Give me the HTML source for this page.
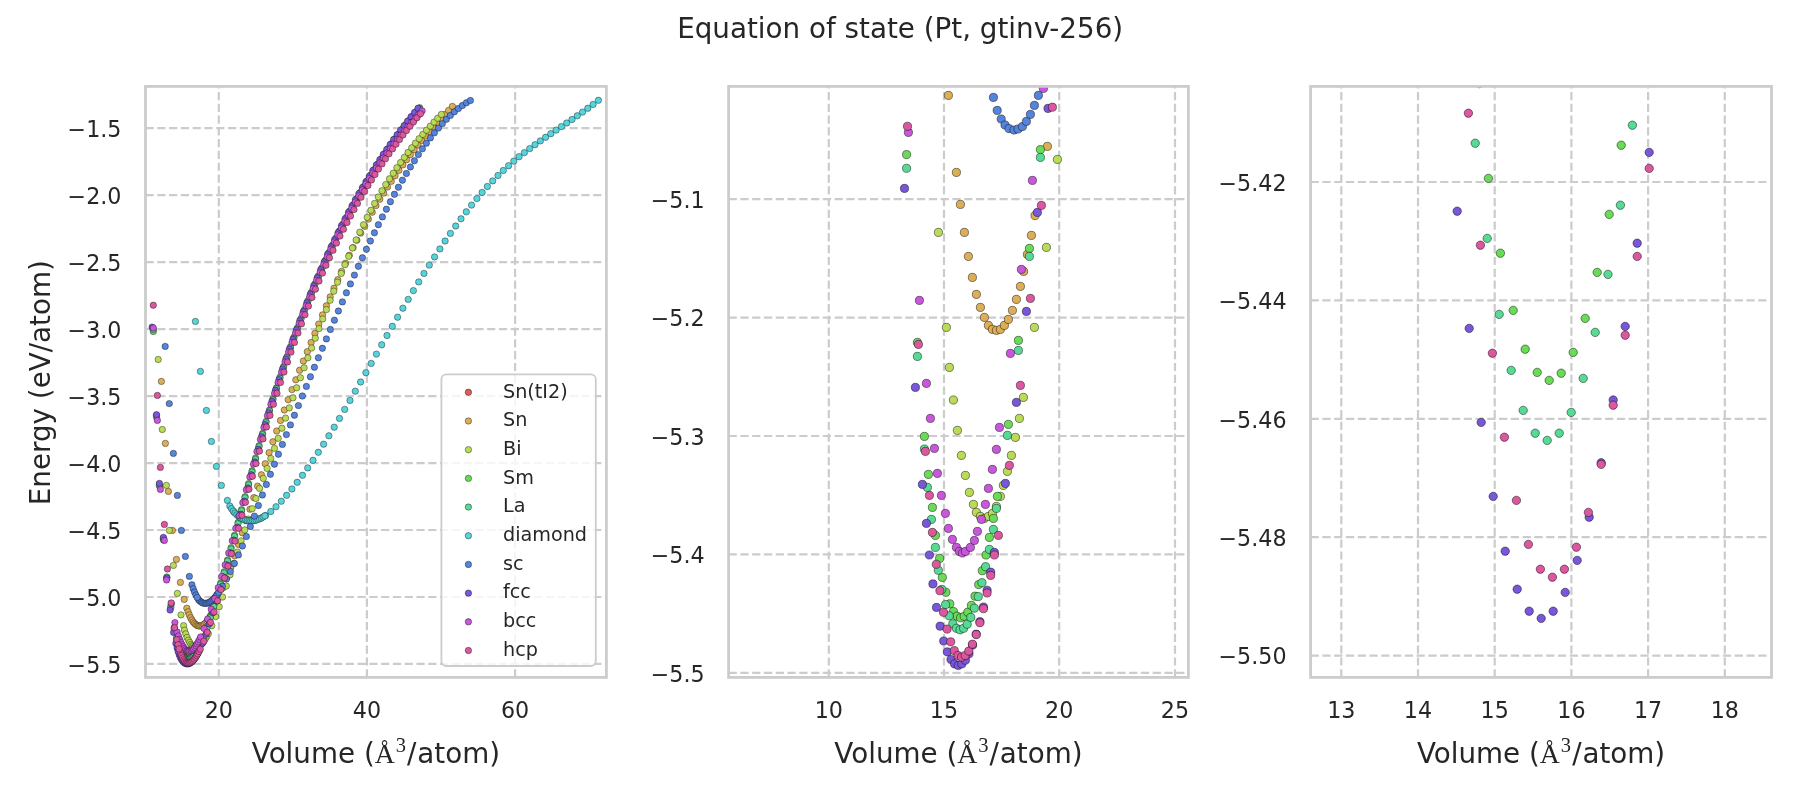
<!DOCTYPE html><html><head><meta charset="utf-8"><title>Equation of state (Pt, gtinv-256)</title>
<style>html,body{margin:0;padding:0;background:#fff;}svg{display:block;will-change:transform;}text{font-family:'DejaVu Sans', 'Liberation Sans', sans-serif;fill:#262626;}</style></head><body>
<svg width="1800" height="800" viewBox="0 0 1800 800">
<rect x="0" y="0" width="1800" height="800" fill="#fff"/>
<defs>
<clipPath id="c0"><rect x="145.50" y="86.40" width="460.90" height="591.00"/></clipPath>
<clipPath id="c1"><rect x="728.60" y="86.40" width="459.80" height="591.00"/></clipPath>
<clipPath id="c2"><rect x="1310.60" y="86.40" width="460.90" height="591.00"/></clipPath>
</defs>
<text x="900.2" y="38.1" text-anchor="middle" font-size="27.78">Equation of state (Pt, gtinv-256)</text>
<path d="M218.80 677.40V86.40M366.90 677.40V86.40M515.10 677.40V86.40M145.50 128.10H606.40M145.50 195.08H606.40M145.50 262.07H606.40M145.50 329.05H606.40M145.50 396.04H606.40M145.50 463.02H606.40M145.50 530.01H606.40M145.50 597.00H606.40M145.50 663.98H606.40" stroke="#cccccc" stroke-width="2.22" stroke-dasharray="8.22 3.56" fill="none"/>
<g clip-path="url(#c0)" stroke="#000" stroke-opacity="0.7" stroke-width="0.55">
<g fill="#dbae57"><circle cx="184.2" cy="599.4" r="3.20"/><circle cx="186.8" cy="608.2" r="3.20"/><circle cx="188.1" cy="611.8" r="3.20"/><circle cx="189.3" cy="614.9" r="3.20"/><circle cx="190.6" cy="617.7" r="3.20"/><circle cx="191.9" cy="620.0" r="3.20"/><circle cx="193.2" cy="622.0" r="3.20"/><circle cx="194.5" cy="623.4" r="3.20"/><circle cx="195.8" cy="624.6" r="3.20"/><circle cx="197.0" cy="625.5" r="3.20"/><circle cx="198.3" cy="625.9" r="3.20"/><circle cx="199.6" cy="626.0" r="3.20"/><circle cx="200.9" cy="625.9" r="3.20"/><circle cx="202.2" cy="625.5" r="3.20"/><circle cx="203.5" cy="624.8" r="3.20"/><circle cx="204.7" cy="623.8" r="3.20"/><circle cx="206.0" cy="622.5" r="3.20"/><circle cx="207.3" cy="621.1" r="3.20"/><circle cx="208.3" cy="619.4" r="3.20"/><circle cx="209.6" cy="617.4" r="3.20"/><circle cx="210.8" cy="615.3" r="3.20"/><circle cx="212.0" cy="613.0" r="3.20"/><circle cx="216.0" cy="605.2" r="3.20"/><circle cx="161.4" cy="381.4" r="3.20"/><circle cx="165.4" cy="443.4" r="3.20"/><circle cx="168.4" cy="491.4" r="3.20"/><circle cx="172.4" cy="530.4" r="3.20"/><circle cx="176.4" cy="559.4" r="3.20"/><circle cx="180.4" cy="582.4" r="3.20"/><circle cx="219.4" cy="597.2" r="3.20"/><circle cx="223.2" cy="587.8" r="3.20"/><circle cx="227.0" cy="577.6" r="3.20"/><circle cx="230.9" cy="566.9" r="3.20"/><circle cx="234.7" cy="555.8" r="3.20"/><circle cx="238.5" cy="544.4" r="3.20"/><circle cx="242.3" cy="532.7" r="3.20"/><circle cx="246.1" cy="520.9" r="3.20"/><circle cx="250.0" cy="509.2" r="3.20"/><circle cx="253.8" cy="497.6" r="3.20"/><circle cx="257.6" cy="486.1" r="3.20"/><circle cx="261.4" cy="474.8" r="3.20"/><circle cx="265.2" cy="463.7" r="3.20"/><circle cx="269.1" cy="452.6" r="3.20"/><circle cx="272.9" cy="441.8" r="3.20"/><circle cx="276.7" cy="431.0" r="3.20"/><circle cx="280.5" cy="420.5" r="3.20"/><circle cx="284.3" cy="410.0" r="3.20"/><circle cx="288.2" cy="399.7" r="3.20"/><circle cx="292.0" cy="389.6" r="3.20"/><circle cx="295.8" cy="379.8" r="3.20"/><circle cx="299.6" cy="370.3" r="3.20"/><circle cx="303.4" cy="361.0" r="3.20"/><circle cx="307.3" cy="351.7" r="3.20"/><circle cx="311.1" cy="342.5" r="3.20"/><circle cx="314.9" cy="333.4" r="3.20"/><circle cx="318.7" cy="324.1" r="3.20"/><circle cx="322.5" cy="314.9" r="3.20"/><circle cx="326.4" cy="305.8" r="3.20"/><circle cx="330.2" cy="296.9" r="3.20"/><circle cx="334.0" cy="288.2" r="3.20"/><circle cx="337.8" cy="279.7" r="3.20"/><circle cx="341.6" cy="271.4" r="3.20"/><circle cx="345.5" cy="263.2" r="3.20"/><circle cx="349.3" cy="255.3" r="3.20"/><circle cx="353.1" cy="247.6" r="3.20"/><circle cx="356.9" cy="240.2" r="3.20"/><circle cx="360.7" cy="233.1" r="3.20"/><circle cx="364.6" cy="226.3" r="3.20"/><circle cx="368.4" cy="219.1" r="3.20"/><circle cx="372.2" cy="212.2" r="3.20"/><circle cx="376.0" cy="205.6" r="3.20"/><circle cx="379.8" cy="199.2" r="3.20"/><circle cx="383.7" cy="193.0" r="3.20"/><circle cx="387.5" cy="187.0" r="3.20"/><circle cx="391.3" cy="181.3" r="3.20"/><circle cx="395.1" cy="175.8" r="3.20"/><circle cx="398.9" cy="170.3" r="3.20"/><circle cx="402.8" cy="164.9" r="3.20"/><circle cx="406.6" cy="159.7" r="3.20"/><circle cx="410.4" cy="154.6" r="3.20"/><circle cx="414.2" cy="149.7" r="3.20"/><circle cx="418.0" cy="145.0" r="3.20"/><circle cx="421.9" cy="140.4" r="3.20"/><circle cx="425.7" cy="135.9" r="3.20"/><circle cx="429.5" cy="131.5" r="3.20"/><circle cx="433.3" cy="127.1" r="3.20"/><circle cx="437.1" cy="122.8" r="3.20"/><circle cx="441.0" cy="118.6" r="3.20"/><circle cx="444.8" cy="114.5" r="3.20"/><circle cx="448.6" cy="110.4" r="3.20"/><circle cx="452.4" cy="106.4" r="3.20"/></g>
<g fill="#b9db57"><circle cx="181.0" cy="614.9" r="3.20"/><circle cx="183.6" cy="625.7" r="3.20"/><circle cx="184.5" cy="630.2" r="3.20"/><circle cx="185.8" cy="633.9" r="3.20"/><circle cx="187.1" cy="637.4" r="3.20"/><circle cx="188.4" cy="640.2" r="3.20"/><circle cx="189.7" cy="642.4" r="3.20"/><circle cx="190.9" cy="644.4" r="3.20"/><circle cx="192.2" cy="645.7" r="3.20"/><circle cx="193.2" cy="646.6" r="3.20"/><circle cx="194.5" cy="647.1" r="3.20"/><circle cx="195.8" cy="647.3" r="3.20"/><circle cx="197.0" cy="647.1" r="3.20"/><circle cx="198.3" cy="646.7" r="3.20"/><circle cx="199.6" cy="646.0" r="3.20"/><circle cx="200.9" cy="644.8" r="3.20"/><circle cx="201.9" cy="643.6" r="3.20"/><circle cx="203.1" cy="642.0" r="3.20"/><circle cx="204.4" cy="640.2" r="3.20"/><circle cx="205.7" cy="638.1" r="3.20"/><circle cx="207.0" cy="636.0" r="3.20"/><circle cx="208.3" cy="633.6" r="3.20"/><circle cx="211.8" cy="625.7" r="3.20"/><circle cx="215.7" cy="616.6" r="3.20"/><circle cx="219.2" cy="606.7" r="3.20"/><circle cx="158.2" cy="359.5" r="3.20"/><circle cx="162.3" cy="429.5" r="3.20"/><circle cx="166.4" cy="485.4" r="3.20"/><circle cx="169.4" cy="530.4" r="3.20"/><circle cx="173.4" cy="565.4" r="3.20"/><circle cx="177.4" cy="593.4" r="3.20"/><circle cx="222.5" cy="597.0" r="3.20"/><circle cx="226.3" cy="586.0" r="3.20"/><circle cx="230.0" cy="574.7" r="3.20"/><circle cx="233.7" cy="563.4" r="3.20"/><circle cx="237.4" cy="552.1" r="3.20"/><circle cx="241.1" cy="540.9" r="3.20"/><circle cx="244.8" cy="529.9" r="3.20"/><circle cx="248.5" cy="519.1" r="3.20"/><circle cx="252.2" cy="508.7" r="3.20"/><circle cx="255.9" cy="498.5" r="3.20"/><circle cx="259.6" cy="488.4" r="3.20"/><circle cx="263.3" cy="478.4" r="3.20"/><circle cx="267.1" cy="468.4" r="3.20"/><circle cx="270.8" cy="458.4" r="3.20"/><circle cx="274.5" cy="448.4" r="3.20"/><circle cx="278.2" cy="438.3" r="3.20"/><circle cx="281.9" cy="428.2" r="3.20"/><circle cx="285.6" cy="418.1" r="3.20"/><circle cx="289.3" cy="407.9" r="3.20"/><circle cx="293.0" cy="397.8" r="3.20"/><circle cx="296.7" cy="387.8" r="3.20"/><circle cx="300.4" cy="377.7" r="3.20"/><circle cx="304.1" cy="367.8" r="3.20"/><circle cx="307.9" cy="357.8" r="3.20"/><circle cx="311.6" cy="348.0" r="3.20"/><circle cx="315.3" cy="338.2" r="3.20"/><circle cx="319.0" cy="328.6" r="3.20"/><circle cx="322.7" cy="319.0" r="3.20"/><circle cx="326.4" cy="309.6" r="3.20"/><circle cx="330.1" cy="300.3" r="3.20"/><circle cx="333.8" cy="291.2" r="3.20"/><circle cx="337.5" cy="282.2" r="3.20"/><circle cx="341.2" cy="273.4" r="3.20"/><circle cx="344.9" cy="264.7" r="3.20"/><circle cx="348.7" cy="256.3" r="3.20"/><circle cx="352.4" cy="248.0" r="3.20"/><circle cx="356.1" cy="240.0" r="3.20"/><circle cx="359.8" cy="232.2" r="3.20"/><circle cx="363.5" cy="224.7" r="3.20"/><circle cx="367.2" cy="217.4" r="3.20"/><circle cx="370.9" cy="210.3" r="3.20"/><circle cx="374.6" cy="203.5" r="3.20"/><circle cx="378.3" cy="197.0" r="3.20"/><circle cx="382.0" cy="190.7" r="3.20"/><circle cx="385.7" cy="184.6" r="3.20"/><circle cx="389.5" cy="178.8" r="3.20"/><circle cx="393.2" cy="173.2" r="3.20"/><circle cx="396.9" cy="167.7" r="3.20"/><circle cx="400.6" cy="162.5" r="3.20"/><circle cx="404.3" cy="157.4" r="3.20"/><circle cx="408.0" cy="152.5" r="3.20"/><circle cx="411.7" cy="147.8" r="3.20"/><circle cx="415.4" cy="143.2" r="3.20"/><circle cx="419.1" cy="138.7" r="3.20"/><circle cx="422.8" cy="134.4" r="3.20"/><circle cx="426.5" cy="130.2" r="3.20"/><circle cx="430.3" cy="126.1" r="3.20"/><circle cx="434.0" cy="122.1" r="3.20"/><circle cx="437.7" cy="118.2" r="3.20"/><circle cx="441.4" cy="114.4" r="3.20"/></g>
<g fill="#69db57"><circle cx="182.2" cy="654.0" r="3.20"/><circle cx="183.4" cy="655.7" r="3.20"/><circle cx="184.6" cy="657.0" r="3.20"/><circle cx="185.8" cy="657.8" r="3.20"/><circle cx="187.0" cy="658.4" r="3.20"/><circle cx="188.1" cy="658.6" r="3.20"/><circle cx="189.3" cy="658.4" r="3.20"/><circle cx="190.4" cy="657.9" r="3.20"/><circle cx="191.6" cy="657.1" r="3.20"/><circle cx="192.8" cy="656.1" r="3.20"/><circle cx="193.9" cy="654.8" r="3.20"/><circle cx="195.1" cy="653.2" r="3.20"/><circle cx="170.8" cy="606.1" r="3.20"/><circle cx="174.2" cy="627.4" r="3.20"/><circle cx="176.5" cy="638.0" r="3.20"/><circle cx="177.8" cy="642.3" r="3.20"/><circle cx="179.1" cy="646.1" r="3.20"/><circle cx="180.0" cy="649.2" r="3.20"/><circle cx="181.4" cy="651.8" r="3.20"/><circle cx="196.3" cy="651.5" r="3.20"/><circle cx="197.4" cy="649.5" r="3.20"/><circle cx="198.6" cy="647.3" r="3.20"/><circle cx="199.9" cy="644.8" r="3.20"/><circle cx="203.5" cy="636.7" r="3.20"/><circle cx="206.7" cy="627.2" r="3.20"/><circle cx="210.2" cy="616.8" r="3.20"/><circle cx="213.7" cy="605.6" r="3.20"/><circle cx="153.3" cy="331.5" r="3.20"/><circle cx="156.5" cy="417.3" r="3.20"/><circle cx="159.4" cy="486.0" r="3.20"/><circle cx="163.4" cy="540.0" r="3.20"/><circle cx="166.8" cy="578.0" r="3.20"/><circle cx="217.2" cy="594.5" r="3.20"/><circle cx="220.7" cy="583.3" r="3.20"/><circle cx="224.2" cy="571.7" r="3.20"/><circle cx="227.6" cy="559.9" r="3.20"/><circle cx="231.1" cy="547.7" r="3.20"/><circle cx="234.6" cy="535.2" r="3.20"/><circle cx="238.1" cy="522.5" r="3.20"/><circle cx="241.6" cy="509.6" r="3.20"/><circle cx="245.1" cy="496.6" r="3.20"/><circle cx="248.6" cy="483.6" r="3.20"/><circle cx="252.1" cy="470.8" r="3.20"/><circle cx="255.6" cy="458.0" r="3.20"/><circle cx="259.1" cy="445.6" r="3.20"/><circle cx="262.6" cy="433.4" r="3.20"/><circle cx="266.1" cy="421.5" r="3.20"/><circle cx="269.5" cy="410.0" r="3.20"/><circle cx="273.0" cy="398.7" r="3.20"/><circle cx="276.5" cy="387.8" r="3.20"/><circle cx="280.0" cy="377.1" r="3.20"/><circle cx="283.5" cy="366.7" r="3.20"/><circle cx="287.0" cy="356.6" r="3.20"/><circle cx="290.5" cy="346.7" r="3.20"/><circle cx="294.0" cy="337.1" r="3.20"/><circle cx="297.5" cy="327.7" r="3.20"/><circle cx="301.0" cy="318.5" r="3.20"/><circle cx="304.5" cy="309.6" r="3.20"/><circle cx="307.9" cy="300.8" r="3.20"/><circle cx="311.4" cy="292.3" r="3.20"/><circle cx="314.9" cy="284.0" r="3.20"/><circle cx="318.4" cy="275.9" r="3.20"/><circle cx="321.9" cy="267.9" r="3.20"/><circle cx="325.4" cy="260.2" r="3.20"/><circle cx="328.9" cy="252.6" r="3.20"/><circle cx="332.4" cy="245.2" r="3.20"/><circle cx="335.9" cy="238.1" r="3.20"/><circle cx="339.4" cy="231.0" r="3.20"/><circle cx="342.9" cy="224.2" r="3.20"/><circle cx="346.4" cy="217.5" r="3.20"/><circle cx="349.8" cy="211.0" r="3.20"/><circle cx="353.3" cy="204.6" r="3.20"/><circle cx="356.8" cy="198.4" r="3.20"/><circle cx="360.3" cy="192.4" r="3.20"/><circle cx="363.8" cy="186.5" r="3.20"/><circle cx="367.3" cy="180.7" r="3.20"/><circle cx="370.8" cy="175.0" r="3.20"/><circle cx="374.3" cy="169.5" r="3.20"/><circle cx="377.8" cy="164.0" r="3.20"/><circle cx="381.3" cy="158.7" r="3.20"/><circle cx="384.8" cy="153.5" r="3.20"/><circle cx="388.3" cy="148.5" r="3.20"/><circle cx="391.7" cy="143.5" r="3.20"/><circle cx="395.2" cy="138.7" r="3.20"/><circle cx="398.7" cy="134.0" r="3.20"/><circle cx="402.2" cy="129.3" r="3.20"/><circle cx="405.7" cy="124.8" r="3.20"/><circle cx="409.2" cy="120.4" r="3.20"/><circle cx="412.7" cy="116.1" r="3.20"/><circle cx="416.2" cy="111.8" r="3.20"/><circle cx="419.7" cy="107.7" r="3.20"/></g>
<g fill="#57db94"><circle cx="181.0" cy="653.2" r="3.20"/><circle cx="182.1" cy="655.3" r="3.20"/><circle cx="183.3" cy="657.1" r="3.20"/><circle cx="184.4" cy="658.3" r="3.20"/><circle cx="185.6" cy="659.2" r="3.20"/><circle cx="186.8" cy="659.7" r="3.20"/><circle cx="187.9" cy="659.9" r="3.20"/><circle cx="189.1" cy="659.7" r="3.20"/><circle cx="190.2" cy="659.3" r="3.20"/><circle cx="191.4" cy="658.5" r="3.20"/><circle cx="192.6" cy="657.5" r="3.20"/><circle cx="193.8" cy="656.2" r="3.20"/><circle cx="195.0" cy="654.6" r="3.20"/><circle cx="196.2" cy="652.8" r="3.20"/><circle cx="170.8" cy="607.7" r="3.20"/><circle cx="174.2" cy="629.0" r="3.20"/><circle cx="176.5" cy="639.5" r="3.20"/><circle cx="177.5" cy="643.8" r="3.20"/><circle cx="178.7" cy="647.4" r="3.20"/><circle cx="180.0" cy="650.6" r="3.20"/><circle cx="197.4" cy="650.8" r="3.20"/><circle cx="198.6" cy="648.6" r="3.20"/><circle cx="199.6" cy="646.2" r="3.20"/><circle cx="203.1" cy="637.9" r="3.20"/><circle cx="206.7" cy="628.3" r="3.20"/><circle cx="210.2" cy="617.7" r="3.20"/><circle cx="213.7" cy="606.5" r="3.20"/><circle cx="153.3" cy="329.5" r="3.20"/><circle cx="156.5" cy="415.5" r="3.20"/><circle cx="159.4" cy="485.0" r="3.20"/><circle cx="163.4" cy="538.5" r="3.20"/><circle cx="166.8" cy="577.0" r="3.20"/><circle cx="217.1" cy="595.7" r="3.20"/><circle cx="220.6" cy="584.5" r="3.20"/><circle cx="224.1" cy="573.0" r="3.20"/><circle cx="227.5" cy="561.1" r="3.20"/><circle cx="231.0" cy="549.0" r="3.20"/><circle cx="234.5" cy="536.5" r="3.20"/><circle cx="238.0" cy="523.7" r="3.20"/><circle cx="241.5" cy="510.8" r="3.20"/><circle cx="245.0" cy="497.8" r="3.20"/><circle cx="248.5" cy="484.9" r="3.20"/><circle cx="252.0" cy="472.0" r="3.20"/><circle cx="255.5" cy="459.3" r="3.20"/><circle cx="259.0" cy="446.8" r="3.20"/><circle cx="262.4" cy="434.6" r="3.20"/><circle cx="265.9" cy="422.7" r="3.20"/><circle cx="269.4" cy="411.1" r="3.20"/><circle cx="272.9" cy="399.9" r="3.20"/><circle cx="276.4" cy="388.9" r="3.20"/><circle cx="279.9" cy="378.2" r="3.20"/><circle cx="283.4" cy="367.8" r="3.20"/><circle cx="286.9" cy="357.7" r="3.20"/><circle cx="290.4" cy="347.8" r="3.20"/><circle cx="293.8" cy="338.1" r="3.20"/><circle cx="297.3" cy="328.7" r="3.20"/><circle cx="300.8" cy="319.5" r="3.20"/><circle cx="304.3" cy="310.6" r="3.20"/><circle cx="307.8" cy="301.8" r="3.20"/><circle cx="311.3" cy="293.3" r="3.20"/><circle cx="314.8" cy="284.9" r="3.20"/><circle cx="318.3" cy="276.8" r="3.20"/><circle cx="321.8" cy="268.8" r="3.20"/><circle cx="325.2" cy="261.1" r="3.20"/><circle cx="328.7" cy="253.5" r="3.20"/><circle cx="332.2" cy="246.1" r="3.20"/><circle cx="335.7" cy="238.9" r="3.20"/><circle cx="339.2" cy="231.9" r="3.20"/><circle cx="342.7" cy="225.0" r="3.20"/><circle cx="346.2" cy="218.3" r="3.20"/><circle cx="349.7" cy="211.8" r="3.20"/><circle cx="353.2" cy="205.4" r="3.20"/><circle cx="356.6" cy="199.2" r="3.20"/><circle cx="360.1" cy="193.1" r="3.20"/><circle cx="363.6" cy="187.2" r="3.20"/><circle cx="367.1" cy="181.4" r="3.20"/><circle cx="370.6" cy="175.8" r="3.20"/><circle cx="374.1" cy="170.2" r="3.20"/><circle cx="377.6" cy="164.8" r="3.20"/><circle cx="381.1" cy="159.5" r="3.20"/><circle cx="384.6" cy="154.3" r="3.20"/><circle cx="388.0" cy="149.2" r="3.20"/><circle cx="391.5" cy="144.3" r="3.20"/><circle cx="395.0" cy="139.4" r="3.20"/><circle cx="398.5" cy="134.7" r="3.20"/><circle cx="402.0" cy="130.1" r="3.20"/><circle cx="405.5" cy="125.6" r="3.20"/><circle cx="409.0" cy="121.2" r="3.20"/><circle cx="412.5" cy="116.9" r="3.20"/><circle cx="416.0" cy="112.6" r="3.20"/><circle cx="419.5" cy="108.5" r="3.20"/></g>
<g fill="#57d3db"><circle cx="195.4" cy="321.4" r="3.20"/><circle cx="200.4" cy="371.4" r="3.20"/><circle cx="206.4" cy="410.4" r="3.20"/><circle cx="211.4" cy="441.4" r="3.20"/><circle cx="216.4" cy="466.4" r="3.20"/><circle cx="221.4" cy="485.4" r="3.20"/><circle cx="227.4" cy="500.4" r="3.20"/><circle cx="233.8" cy="511.7" r="3.20"/><circle cx="239.0" cy="516.6" r="3.20"/><circle cx="244.3" cy="519.6" r="3.20"/><circle cx="249.6" cy="520.8" r="3.20"/><circle cx="254.9" cy="520.4" r="3.20"/><circle cx="260.2" cy="518.5" r="3.20"/><circle cx="265.5" cy="515.5" r="3.20"/><circle cx="270.8" cy="511.5" r="3.20"/><circle cx="276.0" cy="506.7" r="3.20"/><circle cx="281.3" cy="501.2" r="3.20"/><circle cx="286.6" cy="495.3" r="3.20"/><circle cx="291.9" cy="489.0" r="3.20"/><circle cx="297.2" cy="482.3" r="3.20"/><circle cx="302.5" cy="475.3" r="3.20"/><circle cx="307.7" cy="467.9" r="3.20"/><circle cx="313.0" cy="460.3" r="3.20"/><circle cx="318.3" cy="452.3" r="3.20"/><circle cx="323.6" cy="444.2" r="3.20"/><circle cx="328.9" cy="435.8" r="3.20"/><circle cx="334.2" cy="427.2" r="3.20"/><circle cx="339.5" cy="418.4" r="3.20"/><circle cx="344.7" cy="409.4" r="3.20"/><circle cx="350.0" cy="400.4" r="3.20"/><circle cx="355.3" cy="391.2" r="3.20"/><circle cx="360.6" cy="382.0" r="3.20"/><circle cx="365.9" cy="372.7" r="3.20"/><circle cx="371.2" cy="363.4" r="3.20"/><circle cx="376.4" cy="354.1" r="3.20"/><circle cx="381.7" cy="344.8" r="3.20"/><circle cx="387.0" cy="335.5" r="3.20"/><circle cx="392.3" cy="326.3" r="3.20"/><circle cx="397.6" cy="317.2" r="3.20"/><circle cx="402.9" cy="308.2" r="3.20"/><circle cx="408.2" cy="299.4" r="3.20"/><circle cx="413.4" cy="290.6" r="3.20"/><circle cx="418.7" cy="281.9" r="3.20"/><circle cx="424.0" cy="273.4" r="3.20"/><circle cx="429.3" cy="265.1" r="3.20"/><circle cx="434.6" cy="256.9" r="3.20"/><circle cx="439.9" cy="248.9" r="3.20"/><circle cx="445.1" cy="241.0" r="3.20"/><circle cx="450.4" cy="233.4" r="3.20"/><circle cx="455.7" cy="226.0" r="3.20"/><circle cx="461.0" cy="218.8" r="3.20"/><circle cx="466.3" cy="211.8" r="3.20"/><circle cx="471.6" cy="205.1" r="3.20"/><circle cx="476.9" cy="198.6" r="3.20"/><circle cx="482.1" cy="192.4" r="3.20"/><circle cx="487.4" cy="186.5" r="3.20"/><circle cx="492.7" cy="180.9" r="3.20"/><circle cx="498.0" cy="175.5" r="3.20"/><circle cx="503.3" cy="170.5" r="3.20"/><circle cx="508.6" cy="165.7" r="3.20"/><circle cx="513.8" cy="161.1" r="3.20"/><circle cx="519.1" cy="156.7" r="3.20"/><circle cx="524.4" cy="152.6" r="3.20"/><circle cx="529.7" cy="148.6" r="3.20"/><circle cx="535.0" cy="144.7" r="3.20"/><circle cx="540.3" cy="140.9" r="3.20"/><circle cx="545.6" cy="137.3" r="3.20"/><circle cx="550.8" cy="133.7" r="3.20"/><circle cx="556.1" cy="130.1" r="3.20"/><circle cx="561.4" cy="126.6" r="3.20"/><circle cx="566.7" cy="123.0" r="3.20"/><circle cx="572.0" cy="119.5" r="3.20"/><circle cx="577.3" cy="115.8" r="3.20"/><circle cx="582.5" cy="112.1" r="3.20"/><circle cx="587.8" cy="108.3" r="3.20"/><circle cx="593.1" cy="104.4" r="3.20"/><circle cx="598.4" cy="100.3" r="3.20"/><circle cx="229.8" cy="506.0" r="3.20"/><circle cx="231.5" cy="508.7" r="3.20"/><circle cx="233.3" cy="511.1" r="3.20"/><circle cx="235.0" cy="513.1" r="3.20"/><circle cx="236.8" cy="514.8" r="3.20"/><circle cx="238.5" cy="516.3" r="3.20"/><circle cx="240.3" cy="517.5" r="3.20"/><circle cx="242.0" cy="518.6" r="3.20"/><circle cx="243.8" cy="519.4" r="3.20"/><circle cx="245.6" cy="520.0" r="3.20"/><circle cx="247.3" cy="520.5" r="3.20"/><circle cx="249.1" cy="520.7" r="3.20"/><circle cx="250.8" cy="520.8" r="3.20"/><circle cx="252.6" cy="520.7" r="3.20"/><circle cx="254.3" cy="520.5" r="3.20"/><circle cx="256.1" cy="520.1" r="3.20"/><circle cx="257.9" cy="519.5" r="3.20"/><circle cx="259.6" cy="518.8" r="3.20"/><circle cx="261.4" cy="518.0" r="3.20"/><circle cx="263.1" cy="517.0" r="3.20"/><circle cx="264.9" cy="515.9" r="3.20"/></g>
<g fill="#5784db"><circle cx="198.6" cy="599.7" r="3.20"/><circle cx="199.9" cy="601.1" r="3.20"/><circle cx="201.2" cy="602.1" r="3.20"/><circle cx="202.4" cy="602.8" r="3.20"/><circle cx="203.7" cy="603.2" r="3.20"/><circle cx="205.3" cy="603.4" r="3.20"/><circle cx="206.5" cy="603.2" r="3.20"/><circle cx="208.0" cy="603.0" r="3.20"/><circle cx="209.2" cy="602.4" r="3.20"/><circle cx="210.5" cy="601.6" r="3.20"/><circle cx="211.8" cy="600.6" r="3.20"/><circle cx="213.1" cy="599.4" r="3.20"/><circle cx="165.2" cy="346.4" r="3.20"/><circle cx="169.3" cy="403.6" r="3.20"/><circle cx="173.4" cy="453.4" r="3.20"/><circle cx="177.4" cy="495.4" r="3.20"/><circle cx="181.4" cy="530.4" r="3.20"/><circle cx="185.4" cy="556.4" r="3.20"/><circle cx="189.4" cy="576.4" r="3.20"/><circle cx="191.9" cy="584.8" r="3.20"/><circle cx="193.2" cy="588.7" r="3.20"/><circle cx="194.5" cy="592.1" r="3.20"/><circle cx="195.9" cy="595.0" r="3.20"/><circle cx="197.2" cy="597.4" r="3.20"/><circle cx="214.6" cy="597.8" r="3.20"/><circle cx="215.9" cy="596.2" r="3.20"/><circle cx="217.2" cy="594.4" r="3.20"/><circle cx="218.6" cy="592.4" r="3.20"/><circle cx="222.4" cy="586.3" r="3.20"/><circle cx="226.4" cy="579.0" r="3.20"/><circle cx="230.4" cy="571.4" r="3.20"/><circle cx="234.4" cy="563.4" r="3.20"/><circle cx="238.4" cy="554.9" r="3.20"/><circle cx="242.4" cy="546.0" r="3.20"/><circle cx="246.4" cy="536.5" r="3.20"/><circle cx="250.4" cy="526.5" r="3.20"/><circle cx="254.4" cy="516.1" r="3.20"/><circle cx="258.4" cy="505.5" r="3.20"/><circle cx="262.4" cy="495.0" r="3.20"/><circle cx="266.4" cy="484.5" r="3.20"/><circle cx="270.4" cy="474.3" r="3.20"/><circle cx="274.4" cy="464.2" r="3.20"/><circle cx="278.4" cy="454.2" r="3.20"/><circle cx="282.4" cy="444.4" r="3.20"/><circle cx="286.4" cy="434.6" r="3.20"/><circle cx="290.4" cy="424.9" r="3.20"/><circle cx="294.4" cy="415.2" r="3.20"/><circle cx="298.4" cy="405.6" r="3.20"/><circle cx="302.4" cy="396.0" r="3.20"/><circle cx="306.4" cy="386.4" r="3.20"/><circle cx="310.4" cy="376.8" r="3.20"/><circle cx="314.4" cy="367.3" r="3.20"/><circle cx="318.4" cy="357.8" r="3.20"/><circle cx="322.4" cy="348.3" r="3.20"/><circle cx="326.4" cy="338.9" r="3.20"/><circle cx="330.4" cy="329.5" r="3.20"/><circle cx="334.4" cy="320.2" r="3.20"/><circle cx="338.4" cy="311.0" r="3.20"/><circle cx="342.4" cy="301.9" r="3.20"/><circle cx="346.4" cy="292.8" r="3.20"/><circle cx="350.4" cy="283.9" r="3.20"/><circle cx="354.4" cy="275.1" r="3.20"/><circle cx="358.4" cy="266.3" r="3.20"/><circle cx="362.4" cy="257.8" r="3.20"/><circle cx="366.4" cy="249.3" r="3.20"/><circle cx="370.4" cy="241.0" r="3.20"/><circle cx="374.4" cy="232.8" r="3.20"/><circle cx="378.4" cy="224.7" r="3.20"/><circle cx="382.4" cy="216.9" r="3.20"/><circle cx="386.4" cy="209.2" r="3.20"/><circle cx="390.4" cy="201.7" r="3.20"/><circle cx="394.4" cy="194.3" r="3.20"/><circle cx="398.4" cy="187.2" r="3.20"/><circle cx="402.4" cy="180.2" r="3.20"/><circle cx="406.4" cy="173.5" r="3.20"/><circle cx="410.4" cy="167.0" r="3.20"/><circle cx="414.4" cy="160.7" r="3.20"/><circle cx="418.4" cy="154.6" r="3.20"/><circle cx="422.4" cy="148.8" r="3.20"/><circle cx="426.4" cy="143.2" r="3.20"/><circle cx="430.4" cy="137.9" r="3.20"/><circle cx="434.4" cy="132.8" r="3.20"/><circle cx="438.4" cy="128.1" r="3.20"/><circle cx="442.4" cy="123.6" r="3.20"/><circle cx="446.4" cy="119.3" r="3.20"/><circle cx="450.4" cy="115.4" r="3.20"/><circle cx="454.4" cy="111.8" r="3.20"/><circle cx="458.4" cy="108.5" r="3.20"/><circle cx="462.4" cy="105.5" r="3.20"/><circle cx="466.4" cy="102.8" r="3.20"/><circle cx="470.4" cy="100.5" r="3.20"/></g>
<g fill="#7957db"><circle cx="179.2" cy="654.7" r="3.20"/><circle cx="180.4" cy="657.4" r="3.20"/><circle cx="181.5" cy="659.5" r="3.20"/><circle cx="182.7" cy="661.2" r="3.20"/><circle cx="183.9" cy="662.4" r="3.20"/><circle cx="185.0" cy="663.3" r="3.20"/><circle cx="186.2" cy="663.8" r="3.20"/><circle cx="187.3" cy="663.9" r="3.20"/><circle cx="188.5" cy="663.8" r="3.20"/><circle cx="189.7" cy="663.3" r="3.20"/><circle cx="190.8" cy="662.6" r="3.20"/><circle cx="192.0" cy="661.6" r="3.20"/><circle cx="193.1" cy="660.4" r="3.20"/><circle cx="194.3" cy="659.0" r="3.20"/><circle cx="195.5" cy="657.3" r="3.20"/><circle cx="196.6" cy="655.4" r="3.20"/><circle cx="197.8" cy="653.4" r="3.20"/><circle cx="170.1" cy="610.0" r="3.20"/><circle cx="173.6" cy="632.5" r="3.20"/><circle cx="175.9" cy="643.5" r="3.20"/><circle cx="177.1" cy="647.9" r="3.20"/><circle cx="178.1" cy="651.5" r="3.20"/><circle cx="199.0" cy="651.2" r="3.20"/><circle cx="202.5" cy="643.3" r="3.20"/><circle cx="206.0" cy="634.2" r="3.20"/><circle cx="209.2" cy="623.9" r="3.20"/><circle cx="212.8" cy="612.7" r="3.20"/><circle cx="216.2" cy="600.9" r="3.20"/><circle cx="152.1" cy="327.1" r="3.20"/><circle cx="156.5" cy="414.6" r="3.20"/><circle cx="159.4" cy="483.4" r="3.20"/><circle cx="163.4" cy="537.4" r="3.20"/><circle cx="166.8" cy="578.0" r="3.20"/><circle cx="219.9" cy="588.6" r="3.20"/><circle cx="223.4" cy="576.9" r="3.20"/><circle cx="226.9" cy="565.0" r="3.20"/><circle cx="230.4" cy="552.7" r="3.20"/><circle cx="233.8" cy="540.1" r="3.20"/><circle cx="237.3" cy="527.2" r="3.20"/><circle cx="240.8" cy="514.2" r="3.20"/><circle cx="244.3" cy="501.1" r="3.20"/><circle cx="247.7" cy="487.9" r="3.20"/><circle cx="251.2" cy="474.8" r="3.20"/><circle cx="254.7" cy="461.9" r="3.20"/><circle cx="258.2" cy="449.2" r="3.20"/><circle cx="261.6" cy="436.7" r="3.20"/><circle cx="265.1" cy="424.6" r="3.20"/><circle cx="268.6" cy="412.8" r="3.20"/><circle cx="272.0" cy="401.3" r="3.20"/><circle cx="275.5" cy="390.3" r="3.20"/><circle cx="279.0" cy="379.6" r="3.20"/><circle cx="282.5" cy="369.1" r="3.20"/><circle cx="285.9" cy="359.0" r="3.20"/><circle cx="289.4" cy="349.0" r="3.20"/><circle cx="292.9" cy="339.3" r="3.20"/><circle cx="296.4" cy="329.9" r="3.20"/><circle cx="299.8" cy="320.7" r="3.20"/><circle cx="303.3" cy="311.7" r="3.20"/><circle cx="306.8" cy="302.9" r="3.20"/><circle cx="310.3" cy="294.3" r="3.20"/><circle cx="313.7" cy="285.9" r="3.20"/><circle cx="317.2" cy="277.7" r="3.20"/><circle cx="320.7" cy="269.7" r="3.20"/><circle cx="324.2" cy="261.9" r="3.20"/><circle cx="327.6" cy="254.3" r="3.20"/><circle cx="331.1" cy="246.9" r="3.20"/><circle cx="334.6" cy="239.6" r="3.20"/><circle cx="338.1" cy="232.6" r="3.20"/><circle cx="341.5" cy="225.6" r="3.20"/><circle cx="345.0" cy="218.9" r="3.20"/><circle cx="348.5" cy="212.3" r="3.20"/><circle cx="352.0" cy="205.9" r="3.20"/><circle cx="355.4" cy="199.7" r="3.20"/><circle cx="358.9" cy="193.6" r="3.20"/><circle cx="362.4" cy="187.6" r="3.20"/><circle cx="365.9" cy="181.8" r="3.20"/><circle cx="369.3" cy="176.1" r="3.20"/><circle cx="372.8" cy="170.5" r="3.20"/><circle cx="376.3" cy="165.0" r="3.20"/><circle cx="379.8" cy="159.7" r="3.20"/><circle cx="383.2" cy="154.4" r="3.20"/><circle cx="386.7" cy="149.4" r="3.20"/><circle cx="390.2" cy="144.4" r="3.20"/><circle cx="393.6" cy="139.5" r="3.20"/><circle cx="397.1" cy="134.8" r="3.20"/><circle cx="400.6" cy="130.1" r="3.20"/><circle cx="404.1" cy="125.6" r="3.20"/><circle cx="407.5" cy="121.1" r="3.20"/><circle cx="411.0" cy="116.8" r="3.20"/><circle cx="414.5" cy="112.5" r="3.20"/><circle cx="418.0" cy="108.3" r="3.20"/></g>
<g fill="#c957db"><circle cx="171.4" cy="603.6" r="3.20"/><circle cx="174.9" cy="622.6" r="3.20"/><circle cx="177.1" cy="632.0" r="3.20"/><circle cx="178.4" cy="636.0" r="3.20"/><circle cx="179.7" cy="639.4" r="3.20"/><circle cx="180.7" cy="642.2" r="3.20"/><circle cx="182.0" cy="644.7" r="3.20"/><circle cx="183.2" cy="646.7" r="3.20"/><circle cx="184.2" cy="648.4" r="3.20"/><circle cx="185.5" cy="649.7" r="3.20"/><circle cx="186.8" cy="650.6" r="3.20"/><circle cx="187.7" cy="651.0" r="3.20"/><circle cx="188.7" cy="651.2" r="3.20"/><circle cx="189.7" cy="651.0" r="3.20"/><circle cx="191.3" cy="650.6" r="3.20"/><circle cx="192.5" cy="649.8" r="3.20"/><circle cx="193.5" cy="648.8" r="3.20"/><circle cx="194.8" cy="647.4" r="3.20"/><circle cx="196.1" cy="645.7" r="3.20"/><circle cx="197.0" cy="643.9" r="3.20"/><circle cx="198.3" cy="641.8" r="3.20"/><circle cx="199.6" cy="639.5" r="3.20"/><circle cx="200.6" cy="637.0" r="3.20"/><circle cx="204.1" cy="628.6" r="3.20"/><circle cx="207.6" cy="619.1" r="3.20"/><circle cx="211.2" cy="609.1" r="3.20"/><circle cx="214.7" cy="598.7" r="3.20"/><circle cx="153.3" cy="328.0" r="3.20"/><circle cx="157.4" cy="420.4" r="3.20"/><circle cx="160.4" cy="489.4" r="3.20"/><circle cx="164.4" cy="540.4" r="3.20"/><circle cx="166.6" cy="580.0" r="3.20"/><circle cx="218.2" cy="587.7" r="3.20"/><circle cx="221.7" cy="576.4" r="3.20"/><circle cx="225.2" cy="564.9" r="3.20"/><circle cx="228.7" cy="553.0" r="3.20"/><circle cx="232.3" cy="540.8" r="3.20"/><circle cx="235.8" cy="528.3" r="3.20"/><circle cx="239.3" cy="515.6" r="3.20"/><circle cx="242.8" cy="502.7" r="3.20"/><circle cx="246.3" cy="489.8" r="3.20"/><circle cx="249.8" cy="477.0" r="3.20"/><circle cx="253.4" cy="464.2" r="3.20"/><circle cx="256.9" cy="451.6" r="3.20"/><circle cx="260.4" cy="439.4" r="3.20"/><circle cx="263.9" cy="427.4" r="3.20"/><circle cx="267.4" cy="415.7" r="3.20"/><circle cx="270.9" cy="404.4" r="3.20"/><circle cx="274.5" cy="393.4" r="3.20"/><circle cx="278.0" cy="382.6" r="3.20"/><circle cx="281.5" cy="372.2" r="3.20"/><circle cx="285.0" cy="362.0" r="3.20"/><circle cx="288.5" cy="352.1" r="3.20"/><circle cx="292.0" cy="342.4" r="3.20"/><circle cx="295.5" cy="332.9" r="3.20"/><circle cx="299.1" cy="323.6" r="3.20"/><circle cx="302.6" cy="314.5" r="3.20"/><circle cx="306.1" cy="305.7" r="3.20"/><circle cx="309.6" cy="297.0" r="3.20"/><circle cx="313.1" cy="288.6" r="3.20"/><circle cx="316.6" cy="280.3" r="3.20"/><circle cx="320.2" cy="272.3" r="3.20"/><circle cx="323.7" cy="264.4" r="3.20"/><circle cx="327.2" cy="256.8" r="3.20"/><circle cx="330.7" cy="249.3" r="3.20"/><circle cx="334.2" cy="242.0" r="3.20"/><circle cx="337.7" cy="234.9" r="3.20"/><circle cx="341.3" cy="228.0" r="3.20"/><circle cx="344.8" cy="221.3" r="3.20"/><circle cx="348.3" cy="214.7" r="3.20"/><circle cx="351.8" cy="208.3" r="3.20"/><circle cx="355.3" cy="202.0" r="3.20"/><circle cx="358.8" cy="195.9" r="3.20"/><circle cx="362.3" cy="189.9" r="3.20"/><circle cx="365.9" cy="184.1" r="3.20"/><circle cx="369.4" cy="178.5" r="3.20"/><circle cx="372.9" cy="173.2" r="3.20"/><circle cx="376.4" cy="168.0" r="3.20"/><circle cx="379.9" cy="162.9" r="3.20"/><circle cx="383.4" cy="158.0" r="3.20"/><circle cx="387.0" cy="153.2" r="3.20"/><circle cx="390.5" cy="148.5" r="3.20"/><circle cx="394.0" cy="143.9" r="3.20"/><circle cx="397.5" cy="139.4" r="3.20"/><circle cx="401.0" cy="135.1" r="3.20"/><circle cx="404.5" cy="130.8" r="3.20"/><circle cx="408.1" cy="126.6" r="3.20"/><circle cx="411.6" cy="122.6" r="3.20"/><circle cx="415.1" cy="118.6" r="3.20"/><circle cx="418.6" cy="114.7" r="3.20"/><circle cx="422.1" cy="110.9" r="3.20"/></g>
<g fill="#db579e"><circle cx="180.3" cy="652.5" r="3.20"/><circle cx="181.5" cy="655.5" r="3.20"/><circle cx="182.6" cy="657.9" r="3.20"/><circle cx="183.8" cy="659.8" r="3.20"/><circle cx="184.9" cy="661.3" r="3.20"/><circle cx="186.1" cy="662.3" r="3.20"/><circle cx="187.3" cy="662.8" r="3.20"/><circle cx="188.4" cy="663.0" r="3.20"/><circle cx="189.6" cy="662.8" r="3.20"/><circle cx="190.7" cy="662.3" r="3.20"/><circle cx="191.9" cy="661.5" r="3.20"/><circle cx="193.1" cy="660.5" r="3.20"/><circle cx="194.3" cy="659.1" r="3.20"/><circle cx="195.5" cy="657.5" r="3.20"/><circle cx="196.6" cy="655.7" r="3.20"/><circle cx="197.8" cy="653.8" r="3.20"/><circle cx="171.1" cy="602.9" r="3.20"/><circle cx="174.6" cy="627.6" r="3.20"/><circle cx="176.8" cy="639.7" r="3.20"/><circle cx="178.1" cy="644.7" r="3.20"/><circle cx="179.1" cy="648.9" r="3.20"/><circle cx="199.0" cy="651.5" r="3.20"/><circle cx="200.3" cy="649.2" r="3.20"/><circle cx="203.8" cy="641.3" r="3.20"/><circle cx="207.3" cy="632.3" r="3.20"/><circle cx="210.5" cy="622.4" r="3.20"/><circle cx="214.1" cy="611.9" r="3.20"/><circle cx="217.6" cy="600.8" r="3.20"/><circle cx="153.3" cy="305.2" r="3.20"/><circle cx="157.4" cy="395.4" r="3.20"/><circle cx="160.4" cy="467.4" r="3.20"/><circle cx="164.4" cy="524.4" r="3.20"/><circle cx="167.4" cy="569.0" r="3.20"/><circle cx="221.0" cy="589.6" r="3.20"/><circle cx="224.5" cy="578.0" r="3.20"/><circle cx="228.0" cy="566.0" r="3.20"/><circle cx="231.5" cy="553.7" r="3.20"/><circle cx="235.0" cy="541.1" r="3.20"/><circle cx="238.5" cy="528.3" r="3.20"/><circle cx="242.0" cy="515.3" r="3.20"/><circle cx="245.5" cy="502.3" r="3.20"/><circle cx="249.0" cy="489.3" r="3.20"/><circle cx="252.5" cy="476.3" r="3.20"/><circle cx="256.0" cy="463.6" r="3.20"/><circle cx="259.5" cy="451.1" r="3.20"/><circle cx="263.0" cy="438.9" r="3.20"/><circle cx="266.5" cy="427.0" r="3.20"/><circle cx="270.0" cy="415.4" r="3.20"/><circle cx="273.5" cy="404.2" r="3.20"/><circle cx="277.0" cy="393.2" r="3.20"/><circle cx="280.5" cy="382.5" r="3.20"/><circle cx="284.0" cy="372.1" r="3.20"/><circle cx="287.5" cy="362.0" r="3.20"/><circle cx="291.0" cy="352.1" r="3.20"/><circle cx="294.5" cy="342.4" r="3.20"/><circle cx="298.0" cy="333.0" r="3.20"/><circle cx="301.5" cy="323.8" r="3.20"/><circle cx="305.0" cy="314.8" r="3.20"/><circle cx="308.5" cy="306.1" r="3.20"/><circle cx="312.0" cy="297.5" r="3.20"/><circle cx="315.5" cy="289.2" r="3.20"/><circle cx="319.0" cy="281.0" r="3.20"/><circle cx="322.5" cy="273.1" r="3.20"/><circle cx="326.0" cy="265.3" r="3.20"/><circle cx="329.5" cy="257.7" r="3.20"/><circle cx="333.0" cy="250.3" r="3.20"/><circle cx="336.5" cy="243.1" r="3.20"/><circle cx="340.0" cy="236.1" r="3.20"/><circle cx="343.5" cy="229.2" r="3.20"/><circle cx="347.0" cy="222.5" r="3.20"/><circle cx="350.5" cy="216.0" r="3.20"/><circle cx="354.0" cy="209.6" r="3.20"/><circle cx="357.5" cy="203.4" r="3.20"/><circle cx="361.0" cy="197.3" r="3.20"/><circle cx="364.5" cy="191.4" r="3.20"/><circle cx="368.0" cy="185.6" r="3.20"/><circle cx="371.5" cy="180.0" r="3.20"/><circle cx="375.0" cy="174.5" r="3.20"/><circle cx="378.5" cy="169.1" r="3.20"/><circle cx="382.0" cy="163.9" r="3.20"/><circle cx="385.5" cy="158.8" r="3.20"/><circle cx="389.0" cy="153.8" r="3.20"/><circle cx="392.5" cy="148.9" r="3.20"/><circle cx="396.0" cy="144.2" r="3.20"/><circle cx="399.5" cy="139.5" r="3.20"/><circle cx="403.0" cy="135.0" r="3.20"/><circle cx="406.5" cy="130.5" r="3.20"/><circle cx="410.0" cy="126.2" r="3.20"/><circle cx="413.5" cy="121.9" r="3.20"/><circle cx="417.0" cy="117.7" r="3.20"/><circle cx="420.5" cy="113.7" r="3.20"/></g>
</g>
<rect x="145.50" y="86.40" width="460.90" height="591.00" fill="none" stroke="#cccccc" stroke-width="2.78"/>
<text x="218.80" y="717.5" text-anchor="middle" font-size="22.22">20</text>
<text x="366.90" y="717.5" text-anchor="middle" font-size="22.22">40</text>
<text x="515.10" y="717.5" text-anchor="middle" font-size="22.22">60</text>
<text x="121.50" y="136.90" text-anchor="end" font-size="22.22">−1.5</text>
<text x="121.50" y="203.88" text-anchor="end" font-size="22.22">−2.0</text>
<text x="121.50" y="270.87" text-anchor="end" font-size="22.22">−2.5</text>
<text x="121.50" y="337.85" text-anchor="end" font-size="22.22">−3.0</text>
<text x="121.50" y="404.84" text-anchor="end" font-size="22.22">−3.5</text>
<text x="121.50" y="471.82" text-anchor="end" font-size="22.22">−4.0</text>
<text x="121.50" y="538.81" text-anchor="end" font-size="22.22">−4.5</text>
<text x="121.50" y="605.79" text-anchor="end" font-size="22.22">−5.0</text>
<text x="121.50" y="672.78" text-anchor="end" font-size="22.22">−5.5</text>
<text x="375.95" y="762.8" text-anchor="middle" font-size="27.78">Volume (<tspan font-family="'Liberation Serif', 'DejaVu Serif', serif">Å</tspan><tspan font-family="'Liberation Serif', 'DejaVu Serif', serif" font-size="20.5" dx="0.9" dy="-11">3</tspan><tspan dx="1.1" dy="11">/</tspan><tspan dx="0.9">atom)</tspan></text>
<path d="M828.80 677.40V86.40M944.00 677.40V86.40M1059.20 677.40V86.40M1175.00 677.40V86.40M728.60 199.20H1188.40M728.60 317.60H1188.40M728.60 436.00H1188.40M728.60 554.40H1188.40M728.60 672.80H1188.40" stroke="#cccccc" stroke-width="2.22" stroke-dasharray="8.22 3.56" fill="none"/>
<g clip-path="url(#c1)" stroke="#000" stroke-opacity="0.7" stroke-width="0.65">
<g fill="#dbae57"><circle cx="948.4" cy="95.4" r="4.10"/><circle cx="956.4" cy="172.4" r="4.10"/><circle cx="960.4" cy="204.4" r="4.10"/><circle cx="964.4" cy="232.4" r="4.10"/><circle cx="968.4" cy="256.4" r="4.10"/><circle cx="972.4" cy="277.4" r="4.10"/><circle cx="976.4" cy="294.4" r="4.10"/><circle cx="980.4" cy="307.4" r="4.10"/><circle cx="984.4" cy="317.4" r="4.10"/><circle cx="988.4" cy="325.4" r="4.10"/><circle cx="992.4" cy="329.4" r="4.10"/><circle cx="996.4" cy="330.4" r="4.10"/><circle cx="1000.4" cy="329.4" r="4.10"/><circle cx="1004.4" cy="325.4" r="4.10"/><circle cx="1008.4" cy="319.4" r="4.10"/><circle cx="1012.4" cy="310.4" r="4.10"/><circle cx="1016.4" cy="299.4" r="4.10"/><circle cx="1020.4" cy="286.4" r="4.10"/><circle cx="1023.6" cy="271.4" r="4.10"/><circle cx="1027.4" cy="254.4" r="4.10"/><circle cx="1031.4" cy="235.4" r="4.10"/><circle cx="1035.0" cy="215.6" r="4.10"/><circle cx="1047.4" cy="146.4" r="4.10"/></g>
<g fill="#b9db57"><circle cx="938.4" cy="232.4" r="4.10"/><circle cx="946.4" cy="327.4" r="4.10"/><circle cx="949.4" cy="367.4" r="4.10"/><circle cx="953.4" cy="400.0" r="4.10"/><circle cx="957.4" cy="430.4" r="4.10"/><circle cx="961.4" cy="455.4" r="4.10"/><circle cx="965.4" cy="475.4" r="4.10"/><circle cx="969.4" cy="492.4" r="4.10"/><circle cx="973.4" cy="504.4" r="4.10"/><circle cx="976.4" cy="512.4" r="4.10"/><circle cx="980.4" cy="516.4" r="4.10"/><circle cx="984.4" cy="518.4" r="4.10"/><circle cx="988.4" cy="516.4" r="4.10"/><circle cx="992.4" cy="513.4" r="4.10"/><circle cx="996.4" cy="506.4" r="4.10"/><circle cx="1000.4" cy="496.4" r="4.10"/><circle cx="1003.4" cy="485.4" r="4.10"/><circle cx="1007.4" cy="471.4" r="4.10"/><circle cx="1011.4" cy="455.4" r="4.10"/><circle cx="1015.4" cy="437.4" r="4.10"/><circle cx="1019.4" cy="418.4" r="4.10"/><circle cx="1023.4" cy="397.4" r="4.10"/><circle cx="1034.4" cy="327.4" r="4.10"/><circle cx="1046.4" cy="247.4" r="4.10"/><circle cx="1057.4" cy="159.4" r="4.10"/></g>
<g fill="#69db57"><circle cx="942.3" cy="577.4" r="4.10"/><circle cx="945.9" cy="592.3" r="4.10"/><circle cx="949.8" cy="603.8" r="4.10"/><circle cx="953.4" cy="611.5" r="4.10"/><circle cx="957.0" cy="616.2" r="4.10"/><circle cx="960.6" cy="617.8" r="4.10"/><circle cx="964.2" cy="616.3" r="4.10"/><circle cx="967.8" cy="612.2" r="4.10"/><circle cx="971.4" cy="605.4" r="4.10"/><circle cx="975.0" cy="596.2" r="4.10"/><circle cx="978.7" cy="584.6" r="4.10"/><circle cx="982.3" cy="570.7" r="4.10"/><circle cx="906.6" cy="154.6" r="4.10"/><circle cx="917.4" cy="342.4" r="4.10"/><circle cx="924.4" cy="436.4" r="4.10"/><circle cx="928.4" cy="474.4" r="4.10"/><circle cx="932.4" cy="507.4" r="4.10"/><circle cx="935.4" cy="535.4" r="4.10"/><circle cx="939.6" cy="558.4" r="4.10"/><circle cx="986.0" cy="555.0" r="4.10"/><circle cx="989.4" cy="537.4" r="4.10"/><circle cx="993.4" cy="518.4" r="4.10"/><circle cx="997.4" cy="496.4" r="4.10"/><circle cx="1008.4" cy="424.4" r="4.10"/><circle cx="1018.4" cy="340.4" r="4.10"/><circle cx="1029.4" cy="248.4" r="4.10"/><circle cx="1040.4" cy="149.6" r="4.10"/></g>
<g fill="#57db94"><circle cx="938.3" cy="570.3" r="4.10"/><circle cx="941.9" cy="589.4" r="4.10"/><circle cx="945.6" cy="604.6" r="4.10"/><circle cx="949.2" cy="615.8" r="4.10"/><circle cx="952.8" cy="623.8" r="4.10"/><circle cx="956.4" cy="628.3" r="4.10"/><circle cx="960.0" cy="629.8" r="4.10"/><circle cx="963.6" cy="628.3" r="4.10"/><circle cx="967.2" cy="624.2" r="4.10"/><circle cx="970.8" cy="617.4" r="4.10"/><circle cx="974.4" cy="608.2" r="4.10"/><circle cx="978.3" cy="596.6" r="4.10"/><circle cx="982.0" cy="582.7" r="4.10"/><circle cx="985.6" cy="566.7" r="4.10"/><circle cx="906.6" cy="168.3" r="4.10"/><circle cx="917.4" cy="356.4" r="4.10"/><circle cx="924.4" cy="449.0" r="4.10"/><circle cx="927.4" cy="487.4" r="4.10"/><circle cx="931.4" cy="519.4" r="4.10"/><circle cx="935.4" cy="547.4" r="4.10"/><circle cx="989.4" cy="549.4" r="4.10"/><circle cx="993.4" cy="529.4" r="4.10"/><circle cx="996.4" cy="508.4" r="4.10"/><circle cx="1007.4" cy="435.4" r="4.10"/><circle cx="1018.4" cy="350.4" r="4.10"/><circle cx="1029.4" cy="256.4" r="4.10"/><circle cx="1040.4" cy="157.4" r="4.10"/></g>
<g fill="#5784db"><circle cx="993.4" cy="97.4" r="4.10"/><circle cx="997.2" cy="110.4" r="4.10"/><circle cx="1001.2" cy="119.0" r="4.10"/><circle cx="1005.0" cy="125.0" r="4.10"/><circle cx="1009.0" cy="128.6" r="4.10"/><circle cx="1014.0" cy="130.0" r="4.10"/><circle cx="1018.0" cy="129.0" r="4.10"/><circle cx="1022.4" cy="126.6" r="4.10"/><circle cx="1026.4" cy="121.4" r="4.10"/><circle cx="1030.4" cy="114.4" r="4.10"/><circle cx="1034.4" cy="105.4" r="4.10"/><circle cx="1038.4" cy="95.4" r="4.10"/><circle cx="1043.0" cy="81.0" r="4.10"/></g>
<g fill="#7957db"><circle cx="932.9" cy="583.9" r="4.10"/><circle cx="936.5" cy="607.4" r="4.10"/><circle cx="940.1" cy="626.2" r="4.10"/><circle cx="943.7" cy="641.0" r="4.10"/><circle cx="947.4" cy="651.9" r="4.10"/><circle cx="951.0" cy="659.5" r="4.10"/><circle cx="954.6" cy="663.9" r="4.10"/><circle cx="958.2" cy="665.4" r="4.10"/><circle cx="961.8" cy="663.9" r="4.10"/><circle cx="965.4" cy="660.2" r="4.10"/><circle cx="969.0" cy="653.8" r="4.10"/><circle cx="972.6" cy="645.1" r="4.10"/><circle cx="976.2" cy="634.2" r="4.10"/><circle cx="979.9" cy="621.7" r="4.10"/><circle cx="983.5" cy="607.0" r="4.10"/><circle cx="987.1" cy="590.3" r="4.10"/><circle cx="990.7" cy="572.2" r="4.10"/><circle cx="904.5" cy="188.4" r="4.10"/><circle cx="915.4" cy="387.4" r="4.10"/><circle cx="922.4" cy="484.4" r="4.10"/><circle cx="926.4" cy="523.4" r="4.10"/><circle cx="929.4" cy="555.0" r="4.10"/><circle cx="994.4" cy="552.4" r="4.10"/><circle cx="1005.4" cy="483.4" r="4.10"/><circle cx="1016.4" cy="402.4" r="4.10"/><circle cx="1026.4" cy="311.4" r="4.10"/><circle cx="1037.4" cy="212.4" r="4.10"/><circle cx="1048.0" cy="108.4" r="4.10"/></g>
<g fill="#c957db"><circle cx="908.4" cy="132.4" r="4.10"/><circle cx="919.4" cy="300.4" r="4.10"/><circle cx="926.4" cy="383.4" r="4.10"/><circle cx="930.4" cy="418.4" r="4.10"/><circle cx="934.4" cy="448.4" r="4.10"/><circle cx="937.4" cy="473.4" r="4.10"/><circle cx="941.4" cy="495.4" r="4.10"/><circle cx="945.4" cy="513.4" r="4.10"/><circle cx="948.4" cy="528.4" r="4.10"/><circle cx="952.4" cy="539.4" r="4.10"/><circle cx="956.4" cy="547.4" r="4.10"/><circle cx="959.4" cy="551.4" r="4.10"/><circle cx="962.4" cy="553.0" r="4.10"/><circle cx="965.4" cy="551.4" r="4.10"/><circle cx="970.4" cy="547.4" r="4.10"/><circle cx="974.4" cy="540.4" r="4.10"/><circle cx="977.4" cy="531.4" r="4.10"/><circle cx="981.4" cy="519.4" r="4.10"/><circle cx="985.4" cy="504.4" r="4.10"/><circle cx="988.4" cy="488.4" r="4.10"/><circle cx="992.4" cy="469.4" r="4.10"/><circle cx="996.4" cy="449.4" r="4.10"/><circle cx="999.4" cy="427.4" r="4.10"/><circle cx="1010.4" cy="353.4" r="4.10"/><circle cx="1021.4" cy="269.4" r="4.10"/><circle cx="1032.4" cy="180.4" r="4.10"/><circle cx="1043.4" cy="88.4" r="4.10"/></g>
<g fill="#db579e"><circle cx="936.3" cy="564.3" r="4.10"/><circle cx="939.9" cy="590.7" r="4.10"/><circle cx="943.5" cy="612.3" r="4.10"/><circle cx="947.1" cy="629.1" r="4.10"/><circle cx="950.7" cy="641.8" r="4.10"/><circle cx="954.3" cy="650.6" r="4.10"/><circle cx="958.0" cy="655.5" r="4.10"/><circle cx="961.6" cy="657.1" r="4.10"/><circle cx="965.2" cy="655.5" r="4.10"/><circle cx="968.8" cy="651.1" r="4.10"/><circle cx="972.4" cy="644.2" r="4.10"/><circle cx="976.2" cy="634.6" r="4.10"/><circle cx="979.9" cy="622.7" r="4.10"/><circle cx="983.5" cy="608.7" r="4.10"/><circle cx="987.1" cy="593.0" r="4.10"/><circle cx="990.7" cy="575.4" r="4.10"/><circle cx="907.5" cy="126.3" r="4.10"/><circle cx="918.4" cy="344.4" r="4.10"/><circle cx="925.4" cy="451.4" r="4.10"/><circle cx="929.4" cy="495.4" r="4.10"/><circle cx="932.4" cy="532.4" r="4.10"/><circle cx="994.4" cy="555.0" r="4.10"/><circle cx="998.4" cy="535.4" r="4.10"/><circle cx="1009.4" cy="465.4" r="4.10"/><circle cx="1020.4" cy="385.4" r="4.10"/><circle cx="1030.4" cy="298.4" r="4.10"/><circle cx="1041.4" cy="205.4" r="4.10"/><circle cx="1052.4" cy="107.2" r="4.10"/></g>
</g>
<rect x="728.60" y="86.40" width="459.80" height="591.00" fill="none" stroke="#cccccc" stroke-width="2.78"/>
<text x="828.80" y="717.5" text-anchor="middle" font-size="22.22">10</text>
<text x="944.00" y="717.5" text-anchor="middle" font-size="22.22">15</text>
<text x="1059.20" y="717.5" text-anchor="middle" font-size="22.22">20</text>
<text x="1175.00" y="717.5" text-anchor="middle" font-size="22.22">25</text>
<text x="704.60" y="208.00" text-anchor="end" font-size="22.22">−5.1</text>
<text x="704.60" y="326.40" text-anchor="end" font-size="22.22">−5.2</text>
<text x="704.60" y="444.80" text-anchor="end" font-size="22.22">−5.3</text>
<text x="704.60" y="563.20" text-anchor="end" font-size="22.22">−5.4</text>
<text x="704.60" y="681.60" text-anchor="end" font-size="22.22">−5.5</text>
<text x="958.50" y="762.8" text-anchor="middle" font-size="27.78">Volume (<tspan font-family="'Liberation Serif', 'DejaVu Serif', serif">Å</tspan><tspan font-family="'Liberation Serif', 'DejaVu Serif', serif" font-size="20.5" dx="0.9" dy="-11">3</tspan><tspan dx="1.1" dy="11">/</tspan><tspan dx="0.9">atom)</tspan></text>
<path d="M1341.30 677.40V86.40M1418.00 677.40V86.40M1494.70 677.40V86.40M1571.40 677.40V86.40M1648.10 677.40V86.40M1724.80 677.40V86.40M1310.60 182.00H1771.50M1310.60 300.40H1771.50M1310.60 418.80H1771.50M1310.60 537.20H1771.50M1310.60 655.60H1771.50" stroke="#cccccc" stroke-width="2.22" stroke-dasharray="8.22 3.56" fill="none"/>
<g clip-path="url(#c2)" stroke="#000" stroke-opacity="0.7" stroke-width="0.65">
<g fill="#69db57"><circle cx="1488.4" cy="178.4" r="4.20"/><circle cx="1500.4" cy="253.2" r="4.20"/><circle cx="1513.2" cy="310.4" r="4.20"/><circle cx="1525.2" cy="349.2" r="4.20"/><circle cx="1537.2" cy="372.4" r="4.20"/><circle cx="1549.2" cy="380.4" r="4.20"/><circle cx="1561.2" cy="373.2" r="4.20"/><circle cx="1573.2" cy="352.4" r="4.20"/><circle cx="1585.2" cy="318.4" r="4.20"/><circle cx="1597.2" cy="272.4" r="4.20"/><circle cx="1609.2" cy="214.4" r="4.20"/><circle cx="1621.2" cy="145.2" r="4.20"/><circle cx="1479.4" cy="83.6" r="4.20"/></g>
<g fill="#57db94"><circle cx="1475.2" cy="143.2" r="4.20"/><circle cx="1487.2" cy="238.4" r="4.20"/><circle cx="1499.2" cy="314.4" r="4.20"/><circle cx="1511.2" cy="370.4" r="4.20"/><circle cx="1523.2" cy="410.4" r="4.20"/><circle cx="1535.2" cy="433.2" r="4.20"/><circle cx="1547.2" cy="440.4" r="4.20"/><circle cx="1559.2" cy="433.2" r="4.20"/><circle cx="1571.2" cy="412.4" r="4.20"/><circle cx="1583.2" cy="378.4" r="4.20"/><circle cx="1595.2" cy="332.4" r="4.20"/><circle cx="1608.0" cy="274.4" r="4.20"/><circle cx="1620.4" cy="205.2" r="4.20"/><circle cx="1632.4" cy="125.2" r="4.20"/></g>
<g fill="#7957db"><circle cx="1457.2" cy="211.2" r="4.20"/><circle cx="1469.2" cy="328.4" r="4.20"/><circle cx="1481.2" cy="422.4" r="4.20"/><circle cx="1493.2" cy="496.4" r="4.20"/><circle cx="1505.2" cy="551.2" r="4.20"/><circle cx="1517.2" cy="589.2" r="4.20"/><circle cx="1529.2" cy="611.2" r="4.20"/><circle cx="1541.2" cy="618.4" r="4.20"/><circle cx="1553.2" cy="611.2" r="4.20"/><circle cx="1565.2" cy="592.4" r="4.20"/><circle cx="1577.2" cy="560.4" r="4.20"/><circle cx="1589.2" cy="517.2" r="4.20"/><circle cx="1601.2" cy="462.8" r="4.20"/><circle cx="1613.2" cy="400.0" r="4.20"/><circle cx="1625.2" cy="326.4" r="4.20"/><circle cx="1637.2" cy="243.2" r="4.20"/><circle cx="1649.2" cy="152.4" r="4.20"/></g>
<g fill="#db579e"><circle cx="1468.4" cy="113.2" r="4.20"/><circle cx="1480.4" cy="245.2" r="4.20"/><circle cx="1492.4" cy="353.2" r="4.20"/><circle cx="1504.4" cy="437.2" r="4.20"/><circle cx="1516.4" cy="500.4" r="4.20"/><circle cx="1528.4" cy="544.4" r="4.20"/><circle cx="1540.4" cy="569.2" r="4.20"/><circle cx="1552.4" cy="577.2" r="4.20"/><circle cx="1564.4" cy="569.2" r="4.20"/><circle cx="1576.4" cy="547.2" r="4.20"/><circle cx="1588.4" cy="512.4" r="4.20"/><circle cx="1601.2" cy="464.4" r="4.20"/><circle cx="1613.2" cy="405.2" r="4.20"/><circle cx="1625.2" cy="335.2" r="4.20"/><circle cx="1637.2" cy="256.4" r="4.20"/><circle cx="1649.2" cy="168.4" r="4.20"/></g>
</g>
<rect x="1310.60" y="86.40" width="460.90" height="591.00" fill="none" stroke="#cccccc" stroke-width="2.78"/>
<text x="1341.30" y="717.5" text-anchor="middle" font-size="22.22">13</text>
<text x="1418.00" y="717.5" text-anchor="middle" font-size="22.22">14</text>
<text x="1494.70" y="717.5" text-anchor="middle" font-size="22.22">15</text>
<text x="1571.40" y="717.5" text-anchor="middle" font-size="22.22">16</text>
<text x="1648.10" y="717.5" text-anchor="middle" font-size="22.22">17</text>
<text x="1724.80" y="717.5" text-anchor="middle" font-size="22.22">18</text>
<text x="1286.60" y="190.80" text-anchor="end" font-size="22.22">−5.42</text>
<text x="1286.60" y="309.20" text-anchor="end" font-size="22.22">−5.44</text>
<text x="1286.60" y="427.60" text-anchor="end" font-size="22.22">−5.46</text>
<text x="1286.60" y="546.00" text-anchor="end" font-size="22.22">−5.48</text>
<text x="1286.60" y="664.40" text-anchor="end" font-size="22.22">−5.50</text>
<text x="1541.05" y="762.8" text-anchor="middle" font-size="27.78">Volume (<tspan font-family="'Liberation Serif', 'DejaVu Serif', serif">Å</tspan><tspan font-family="'Liberation Serif', 'DejaVu Serif', serif" font-size="20.5" dx="0.9" dy="-11">3</tspan><tspan dx="1.1" dy="11">/</tspan><tspan dx="0.9">atom)</tspan></text>
<text transform="translate(49.7 382.7) rotate(-90)" text-anchor="middle" font-size="27.78">Energy (eV/atom)</text>
<rect x="441.40" y="374.40" width="154.40" height="291.60" rx="5" ry="5" fill="#fff" fill-opacity="0.8" stroke="#cccccc" stroke-width="1.8"/>
<circle cx="468.4" cy="392.30" r="3.2" fill="#db5f57" stroke="#000" stroke-opacity="0.7" stroke-width="0.55"/>
<text x="503.0" y="397.60" font-size="19.2">Sn(tI2)</text>
<circle cx="468.4" cy="420.99" r="3.2" fill="#dbae57" stroke="#000" stroke-opacity="0.7" stroke-width="0.55"/>
<text x="503.0" y="426.29" font-size="19.2">Sn</text>
<circle cx="468.4" cy="449.68" r="3.2" fill="#b9db57" stroke="#000" stroke-opacity="0.7" stroke-width="0.55"/>
<text x="503.0" y="454.98" font-size="19.2">Bi</text>
<circle cx="468.4" cy="478.37" r="3.2" fill="#69db57" stroke="#000" stroke-opacity="0.7" stroke-width="0.55"/>
<text x="503.0" y="483.67" font-size="19.2">Sm</text>
<circle cx="468.4" cy="507.06" r="3.2" fill="#57db94" stroke="#000" stroke-opacity="0.7" stroke-width="0.55"/>
<text x="503.0" y="512.36" font-size="19.2">La</text>
<circle cx="468.4" cy="535.75" r="3.2" fill="#57d3db" stroke="#000" stroke-opacity="0.7" stroke-width="0.55"/>
<text x="503.0" y="541.05" font-size="19.2">diamond</text>
<circle cx="468.4" cy="564.44" r="3.2" fill="#5784db" stroke="#000" stroke-opacity="0.7" stroke-width="0.55"/>
<text x="503.0" y="569.74" font-size="19.2">sc</text>
<circle cx="468.4" cy="593.13" r="3.2" fill="#7957db" stroke="#000" stroke-opacity="0.7" stroke-width="0.55"/>
<text x="503.0" y="598.43" font-size="19.2">fcc</text>
<circle cx="468.4" cy="621.82" r="3.2" fill="#c957db" stroke="#000" stroke-opacity="0.7" stroke-width="0.55"/>
<text x="503.0" y="627.12" font-size="19.2">bcc</text>
<circle cx="468.4" cy="650.51" r="3.2" fill="#db579e" stroke="#000" stroke-opacity="0.7" stroke-width="0.55"/>
<text x="503.0" y="655.81" font-size="19.2">hcp</text>
</svg></body></html>
